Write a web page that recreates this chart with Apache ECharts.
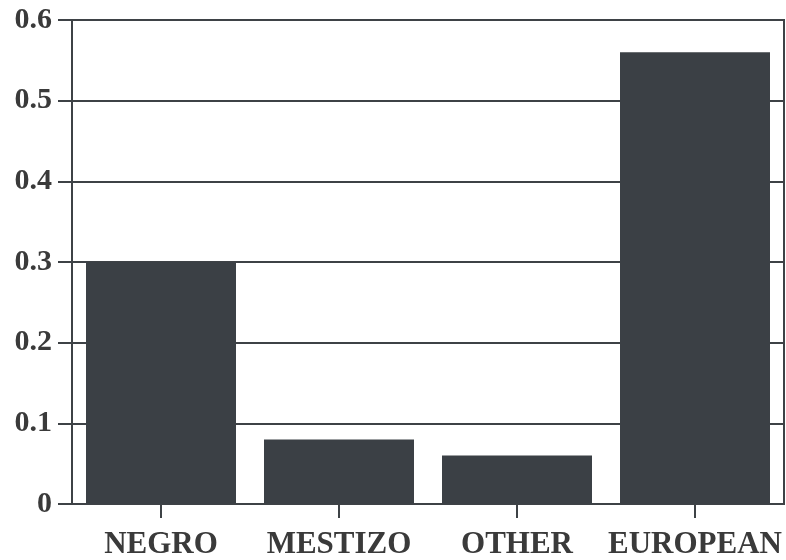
<!DOCTYPE html>
<html>
<head>
<meta charset="utf-8">
<script src="https://cdn.jsdelivr.net/npm/echarts@6/dist/echarts.min.js"></script>
<style>html,body{margin:0;padding:0;background:#fff}#c{width:786px;height:560px}</style>
</head>
<body>
<div id="c"></div>
<script>
const categories = ['NEGRO', 'MESTIZO', 'OTHER', 'EUROPEAN'];
const values = [0.30, 0.08, 0.06, 0.56];
const yTicks = { min: 0, max: 0.6, interval: 0.1 };

const ink = '#3e4246';
const font = '"Liberation Serif", "Times New Roman", serif';
const chart = echarts.init(document.getElementById('c'));
chart.setOption({
  backgroundColor: '#ffffff',
  animation: false,
  grid: { left: 72, right: 2, top: 20, bottom: 55, show: true, borderColor: ink, borderWidth: 2, backgroundColor: 'transparent' },
  xAxis: {
    type: 'category',
    data: categories,
    axisLine: { show: true, lineStyle: { color: ink, width: 2 } },
    axisTick: { show: true, alignWithLabel: true, interval: 0, length: 14, lineStyle: { color: ink, width: 2 } },
    axisLabel: { interval: 0, hideOverlap: false, color: '#3a3a3a', fontFamily: font, fontWeight: 'bold', fontSize: 31, margin: 25 }
  },
  yAxis: {
    type: 'value',
    min: yTicks.min, max: yTicks.max, interval: yTicks.interval,
    axisLine: { show: true, lineStyle: { color: ink, width: 2 } },
    axisTick: { show: true, length: 14, lineStyle: { color: ink, width: 2 } },
    splitLine: { show: true, lineStyle: { color: ink, width: 2 } },
    axisLabel: { color: '#3a3a3a', fontFamily: font, fontWeight: 'bold', fontSize: 30, margin: 20,
      formatter: v => v === 0 ? '0' : v.toFixed(1) }
  },
  series: [{
    type: 'bar',
    data: values,
    barWidth: 150,
    itemStyle: { color: '#3b4045' }
  }]
});
</script>
</body>
</html>
